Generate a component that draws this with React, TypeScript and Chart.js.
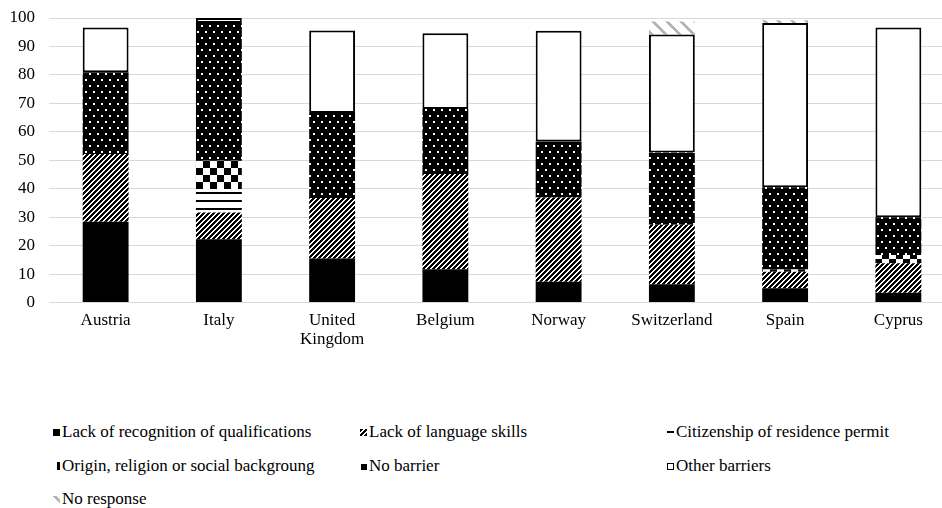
import React, { useEffect, useRef, useMemo } from 'react';
import { Chart, registerables } from 'chart.js';

Chart.register(...registerables);

const categories: (string | string[])[] = ['Austria', 'Italy', ['United', 'Kingdom'], 'Belgium', 'Norway', 'Switzerland', 'Spain', 'Cyprus'];
const recognition = [28.4, 22.2, 15.5, 11.7, 7.3, 6.4, 5.0, 3.4];
const language = [23.8, 9.4, 21.2, 33.5, 29.6, 20.9, 5.8, 10.4];
const citizenship = [0, 8.3, 0, 0, 0, 0, 0, 0];
const origin = [0, 9.9, 0, 0, 0, 0, 0.8, 2.9];
const noBarrier = [28.7, 48.4, 29.9, 22.8, 19.7, 25.4, 28.9, 13.3];
const otherBarriers = [15.8, 1.8, 29.0, 26.6, 38.9, 41.5, 57.7, 66.7];
const noResponse = [0, 0, 0, 0, 0, 4.6, 1.0, 0];
const seriesNames = [
  'Lack of recognition of qualifications',
  'Lack of language skills',
  'Citizenship of residence permit',
  'Origin, religion or social backgroung',
  'No barrier',
  'Other barriers',
  'No response',
];
const yMin = 0;
const yMax = 100;
const yStep = 10;

const FONT = '"Times New Roman", "Liberation Serif", "DejaVu Serif", serif';

function tile(w: number, h: number, draw: (c: CanvasRenderingContext2D) => void) {
  const c = document.createElement('canvas');
  c.width = w;
  c.height = h;
  const ctx = c.getContext('2d')!;
  draw(ctx);
  return c;
}

function makeTiles() {
  const hatch = tile(5, 5, (c) => {
    c.fillStyle = '#fff';
    c.fillRect(0, 0, 5, 5);
    c.fillStyle = '#000';
    for (let x = 0; x < 5; x++) for (let y = 0; y < 5; y++) if ((x + y) % 5 < 3) c.fillRect(x, y, 1, 1);
  });
  const lines = tile(4, 8, (c) => {
    c.fillStyle = '#fff';
    c.fillRect(0, 0, 4, 8);
    c.fillStyle = '#000';
    c.fillRect(0, 0, 4, 2);
  });
  const checker = tile(14, 14, (c) => {
    c.fillStyle = '#fff';
    c.fillRect(0, 0, 14, 14);
    c.fillStyle = '#000';
    c.fillRect(0, 0, 7, 7);
    c.fillRect(7, 7, 7, 7);
  });
  const dots = tile(8, 12, (c) => {
    c.fillStyle = '#000';
    c.fillRect(0, 0, 8, 12);
    c.fillStyle = '#fff';
    c.fillRect(1, 1, 2, 2);
    c.fillRect(5, 7, 2, 2);
  });
  const gray = tile(14, 14, (c) => {
    c.fillStyle = '#fff';
    c.fillRect(0, 0, 14, 14);
    c.fillStyle = '#b5b5b5';
    for (let x = 0; x < 14; x++) for (let y = 0; y < 14; y++) if ((((x - y) % 14) + 14) % 14 < 4) c.fillRect(x, y, 1, 1);
  });
  return { hatch, lines, checker, dots, gray };
}

export default function App() {
  const ref = useRef<HTMLCanvasElement | null>(null);
  const tiles = useMemo(() => makeTiles(), []);

  useEffect(() => {
    const canvas = ref.current!;
    const ctx = canvas.getContext('2d')!;
    const pat = (c: HTMLCanvasElement) => ctx.createPattern(c, 'repeat')!;
    const fills = [
      '#000000',
      pat(tiles.hatch),
      pat(tiles.lines),
      pat(tiles.checker),
      pat(tiles.dots),
      '#ffffff',
      pat(tiles.gray),
    ];
    const values = [recognition, language, citizenship, origin, noBarrier, otherBarriers, noResponse];
    const chart = new Chart(canvas, {
      type: 'bar',
      data: {
        labels: categories,
        datasets: values.map((v, i) => ({
          label: seriesNames[i],
          data: v,
          backgroundColor: fills[i] as any,
          borderColor: '#000',
          borderWidth: i === 5 ? 2 : 0,
          borderSkipped: false,
          categoryPercentage: 1,
          barPercentage: 0.405,
        })),
      },
      options: {
        animation: false,
        responsive: true,
        maintainAspectRatio: false,
        layout: { padding: { top: 18, left: 0, right: 0, bottom: 0 } },
        plugins: { legend: { display: false }, tooltip: { enabled: false } },
        scales: {
          x: {
            stacked: true,
            grid: { display: false },
            border: { display: false },
            ticks: { color: '#000', padding: 1, font: { family: FONT, size: 17, lineHeight: 1.08 }, maxRotation: 0, autoSkip: false },
            afterFit: (s: any) => { s.height = 50.5; },
          },
          y: {
            stacked: true,
            min: yMin,
            max: yMax,
            grid: { color: '#d9d9d9', lineWidth: 1, drawTicks: false },
            border: { display: false },
            ticks: { stepSize: yStep, color: '#000', padding: 14, font: { family: FONT, size: 17 } },
            afterFit: (s: any) => { s.width = 49; s.paddingTop = 0; s.paddingBottom = 0; },
          },
        },
      },
    });
    return () => chart.destroy();
  }, [tiles]);

  const url = (c: HTMLCanvasElement) => `url(${c.toDataURL()})`;
  const swatches: React.CSSProperties[] = [
    { width: 7, height: 7, background: '#000' },
    { width: 7, height: 7, backgroundImage: url(tiles.hatch) },
    { width: 7, height: 2, background: '#000' },
    { width: 3, height: 8, background: '#000' },
    { width: 7, height: 7, background: '#000', boxShadow: 'inset 2px 2px 0 -1px #fff' },
    { width: 5, height: 5, background: '#fff', border: '1.5px solid #000' },
    { width: 7, height: 7, backgroundImage: url(tiles.gray) },
  ];
  const colX = [62, 369, 676];
  const rowY = [432, 466, 499];

  return (
    <div style={{ position: 'absolute', left: 0, top: 0, width: 942, height: 508, overflow: 'hidden', background: '#fff' }}>
      <div style={{ position: 'absolute', left: 0, top: 0, width: 955, height: 353 }}>
        <canvas ref={ref} />
      </div>
      {seriesNames.map((name, i) => {
        const col = i % 3;
        const row = Math.floor(i / 3);
        return (
          <div
            key={name}
            style={{
              position: 'absolute',
              left: colX[col] - 12,
              top: rowY[row] - 10,
              height: 20,
              display: 'flex',
              alignItems: 'center',
              fontFamily: FONT,
              fontSize: 17,
              color: '#000',
              whiteSpace: 'nowrap',
            }}
          >
            <span style={{ display: 'inline-flex', width: 12, justifyContent: 'flex-end', alignItems: 'center' }}>
              <span style={{ display: 'inline-block', marginRight: 2, ...swatches[i] }} />
            </span>
            <span>{name}</span>
          </div>
        );
      })}
    </div>
  );
}
